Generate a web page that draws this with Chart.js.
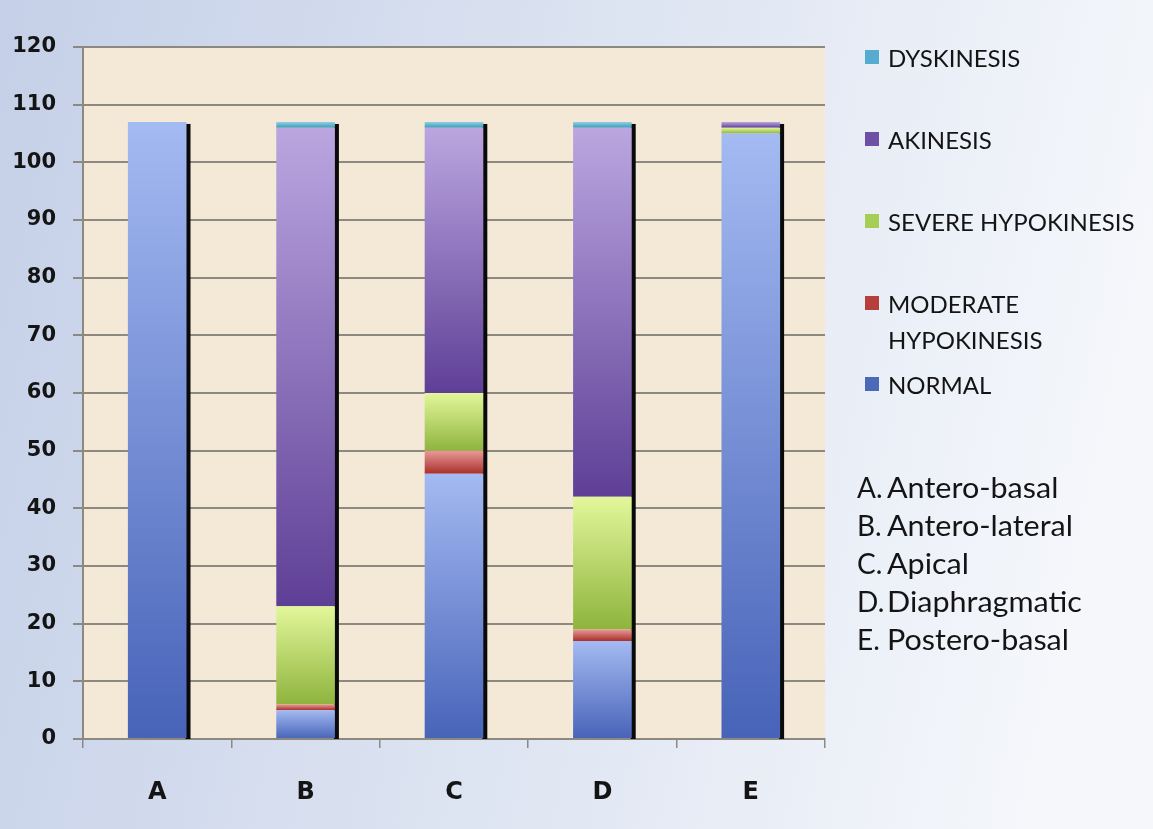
<!DOCTYPE html>
<html>
<head>
<meta charset="utf-8">
<script src="https://cdn.jsdelivr.net/npm/chart.js@4.4.1/dist/chart.umd.min.js"></script>
<style>
  html, body { margin: 0; padding: 0; background: #dfe6f3; }
  #wrap { width: 1153px; height: 829px; }
</style>
</head>
<body>
<div id="wrap"><canvas id="chart" width="1153" height="829"></canvas></div>
<script>
// Wall-motion grading per segment (number of cases)
const segments = ['A', 'B', 'C', 'D', 'E'];
const segmentNames = ['Antero-basal', 'Antero-lateral', 'Apical', 'Diaphragmatic', 'Postero-basal'];

const normal      = [107, 5, 46, 17, 105];
const moderate    = [0, 1, 4, 2, 0];
const severe      = [0, 17, 10, 23, 1];
const akinesis    = [0, 83, 46, 64, 1];
const dyskinesis  = [0, 1, 1, 1, 0];

const yTicks = [0, 10, 20, 30, 40, 50, 60, 70, 80, 90, 100, 110, 120];

// Stack order bottom -> top
const seriesValues = [normal, moderate, severe, akinesis, dyskinesis];
const seriesLabels = ['NORMAL', 'MODERATE HYPOKINESIS', 'SEVERE HYPOKINESIS', 'AKINESIS', 'DYSKINESIS'];
// [top of segment, bottom of segment, legend swatch]
const seriesShades = [
  ['#a4baf2', '#4763b8', '#4a69b9'],
  ['#e99a98', '#a8302c', '#b63f3c'],
  ['#e2f79a', '#8fb43e', '#a6cd55'],
  ['#bba6e0', '#5e3f96', '#6d50a6'],
  ['#8fd0e4', '#3f9bb8', '#55acd0']
];

function segmentFill(ctx, shades) {
  const chart = ctx.chart;
  const area = chart.chartArea;
  if (!area || ctx.type !== 'data') return shades[2];
  const ds = ctx.datasetIndex, i = ctx.dataIndex;
  let base = 0;
  for (let k = 0; k < ds; k++) base += seriesValues[k][i];
  const top = base + seriesValues[ds][i];
  const y = chart.scales.y;
  const y0 = y.getPixelForValue(top), y1 = y.getPixelForValue(base);
  if (y1 - y0 < 2) return shades[1];
  const g = chart.ctx.createLinearGradient(0, y0, 0, y1);
  g.addColorStop(0, shades[0]);
  g.addColorStop(1, shades[1]);
  return g;
}

const datasets = seriesValues.map((vals, k) => ({
  label: seriesLabels[k],
  data: vals,
  backgroundColor: (c) => segmentFill(c, seriesShades[k]),
  borderWidth: 0,
  barPercentage: 0.395,
  categoryPercentage: 1.0
}));

// Page background, plot area fill and bar shadows
const backdrop = {
  id: 'backdrop',
  beforeDraw(chart) {
    const { ctx, width, height, chartArea: a } = chart;
    ctx.save();
    const g = ctx.createLinearGradient(0, 0, width, height * 0.3);
    g.addColorStop(0, '#c5d0e8');
    g.addColorStop(0.55, '#dee5f2');
    g.addColorStop(1, '#f5f7fb');
    ctx.fillStyle = g;
    ctx.fillRect(0, 0, width, height);
    ctx.fillStyle = '#f4e8d7';
    ctx.fillRect(a.left, a.top, a.right - a.left, a.bottom - a.top);
    ctx.restore();
  },
  beforeDatasetsDraw(chart) {
    const { ctx } = chart;
    const y = chart.scales.y;
    const meta = chart.getDatasetMeta(0);
    ctx.save();
    ctx.fillStyle = '#0a0a0a';
    segments.forEach((s, i) => {
      let total = 0;
      seriesValues.forEach(v => { total += v[i]; });
      const el = meta.data[i];
      const right = el.x + el.width / 2;
      const top = y.getPixelForValue(total) + 2;
      const bottom = y.getPixelForValue(0);
      ctx.fillRect(right - 1, top, 5, bottom - top);
    });
    ctx.restore();
  }
};

// Legend and segment key on the right
const sideKey = {
  id: 'sideKey',
  afterDraw(chart) {
    const { ctx } = chart;
    ctx.save();
    ctx.textBaseline = 'middle';
    ctx.font = '24px Lato, "Open Sans", sans-serif';
    const rows = [
      { k: 4, lines: ['DYSKINESIS'], y: 59 },
      { k: 3, lines: ['AKINESIS'], y: 141 },
      { k: 2, lines: ['SEVERE HYPOKINESIS'], y: 223 },
      { k: 1, lines: ['MODERATE', 'HYPOKINESIS'], y: 305 },
      { k: 0, lines: ['NORMAL'], y: 386 }
    ];
    rows.forEach(r => {
      ctx.fillStyle = seriesShades[r.k][2];
      ctx.fillRect(865, r.y - 9, 14, 14);
      ctx.fillStyle = '#141414';
      r.lines.forEach((t, j) => ctx.fillText(t, 888, r.y + j * 36));
    });
    // Segment key, set slightly wide
    ctx.font = '28px Lato, "Open Sans", sans-serif';
    segments.forEach((s, i) => {
      const yy = 489 + i * 38;
      ctx.fillText(s + '.', 857, yy);
      ctx.save();
      ctx.translate(887, yy);
      ctx.scale(1.09, 1);
      ctx.fillText(segmentNames[i], 0, 0);
      ctx.restore();
    });
    ctx.restore();
  }
};

const gridGrey = '#8c8980';

new Chart(document.getElementById('chart'), {
  type: 'bar',
  data: { labels: segments, datasets },
  options: {
    responsive: false,
    animation: false,
    devicePixelRatio: 1,
    layout: { padding: { top: 47, right: 328, bottom: 0, left: 0 } },
    plugins: { legend: { display: false }, tooltip: { enabled: false } },
    scales: {
      x: {
        stacked: true,
        offset: true,
        grid: { display: true, drawOnChartArea: false, drawTicks: true, tickLength: 9, color: gridGrey, lineWidth: 1.5 },
        border: { display: true, color: gridGrey, width: 2 },
        ticks: { color: '#141414', padding: 30, font: { family: 'DejaVu Sans', weight: 'bold', size: 24 } },
        afterFit(scale) { scale.height = 90; }
      },
      y: {
        stacked: true,
        min: 0,
        max: 120,
        afterBuildTicks(scale) { scale.ticks = yTicks.map(v => ({ value: v })); },
        grid: { color: gridGrey, lineWidth: 2, tickLength: 10 },
        border: { display: true, color: gridGrey, width: 2 },
        ticks: { color: '#141414', padding: 17, font: { family: 'DejaVu Sans', weight: 'bold', size: 21 } },
        afterFit(scale) { scale.width = 83; }
      }
    }
  },
  plugins: [backdrop, sideKey]
});
</script>
</body>
</html>
